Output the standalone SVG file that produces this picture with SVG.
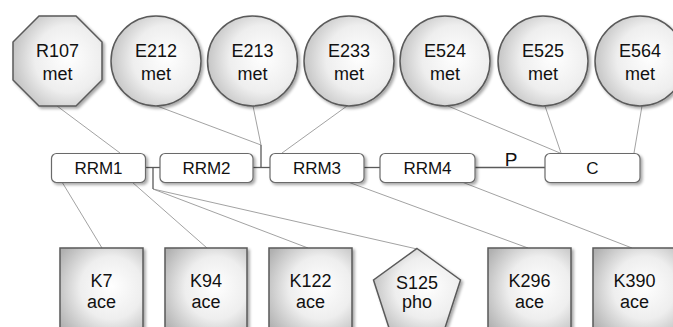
<svg xmlns="http://www.w3.org/2000/svg" width="673" height="327" viewBox="0 0 673 327">
  <defs>
    <radialGradient id="shade" cx="0.62" cy="0.5" r="0.75" fx="0.62" fy="0.45">
      <stop offset="0" stop-color="#ffffff"/>
      <stop offset="0.5" stop-color="#eeeeee"/>
      <stop offset="1" stop-color="#b0b0b0"/>
    </radialGradient>
    <filter id="drop" x="-20%" y="-20%" width="150%" height="150%">
      <feGaussianBlur in="SourceAlpha" stdDeviation="1.5"/>
      <feOffset dx="1.5" dy="2" result="b"/>
      <feComponentTransfer><feFuncA type="linear" slope="0.35"/></feComponentTransfer>
      <feMerge><feMergeNode/><feMergeNode in="SourceGraphic"/></feMerge>
    </filter>
  </defs>
  <style>
    .site { fill: url(#shade); stroke: #5a5a5a; stroke-width: 1.5; filter: url(#drop); }
    .dom { fill: #ffffff; stroke: #6a6a6a; stroke-width: 1.2; filter: url(#drop); }
    .lbl { font-family: "Liberation Sans", Arial, sans-serif; font-size: 18px; fill: #111; text-anchor: middle; }
    .dl { font-family: "Liberation Sans", Arial, sans-serif; font-size: 17px; fill: #111; text-anchor: middle; }
    .pl { font-family: "Liberation Sans", Arial, sans-serif; font-size: 19px; fill: #111; text-anchor: middle; }
    .edge { stroke: #8a8a8a; stroke-width: 0.8; fill: none; }
    .link { stroke: #5a5a5a; stroke-width: 1.3; fill: none; }
  </style>

  <!-- connectors -->
  <g id="connectors">
    <line class="edge" x1="57" y1="106" x2="120" y2="153"/>
    <line class="edge" x1="157" y1="106" x2="261" y2="145"/>
    <line class="edge" x1="253" y1="106" x2="261" y2="145"/>
    <line class="edge" x1="347" y1="106" x2="282" y2="153"/>
    <line class="edge" x1="448" y1="106" x2="560" y2="153"/>
    <line class="edge" x1="545" y1="106" x2="561" y2="153"/>
    <line class="edge" x1="642" y1="106" x2="634" y2="153"/>
    <line class="edge" x1="62" y1="182" x2="102" y2="248"/>
    <line class="edge" x1="132" y1="182" x2="207" y2="248"/>
    <line class="edge" x1="153" y1="189" x2="308" y2="248"/>
    <line class="edge" x1="153" y1="189" x2="417" y2="249"/>
    <line class="edge" x1="348" y1="182" x2="528" y2="248"/>
    <line class="edge" x1="462" y1="182" x2="632" y2="248"/>
    <line class="link" x1="146" y1="167.5" x2="160" y2="167.5"/>
    <line class="link" x1="153" y1="167.5" x2="153" y2="189"/>
    <line class="link" x1="253" y1="167.5" x2="270" y2="167.5"/>
    <line class="link" x1="261" y1="145" x2="261" y2="167.5"/>
    <line class="link" x1="364" y1="167.5" x2="380" y2="167.5"/>
    <line class="link" x1="475" y1="167.5" x2="545" y2="167.5"/>
    <text class="pl" x="511" y="165.5">P</text>
  </g>

  <!-- domains -->
  <g id="RRM1"><rect class="dom" x="51.5" y="153.5" width="94" height="29" rx="5"/><text class="dl" x="98.5" y="174">RRM1</text></g>
  <g id="RRM2"><rect class="dom" x="160" y="153.5" width="93" height="29" rx="5"/><text class="dl" x="206.5" y="174">RRM2</text></g>
  <g id="RRM3"><rect class="dom" x="270" y="153.5" width="94" height="29" rx="5"/><text class="dl" x="317" y="174">RRM3</text></g>
  <g id="RRM4"><rect class="dom" x="380" y="153.5" width="95" height="29" rx="5"/><text class="dl" x="427.5" y="174">RRM4</text></g>
  <g id="C"><rect class="dom" x="545" y="153.5" width="95" height="29" rx="5"/><text class="dl" x="592.5" y="174">C</text></g>

  <!-- methylation sites -->
  <g id="R107">
    <polygon class="site" points="39,16 76,16 102,42 102,80 76,106 39,106 13,80 13,42"/>
    <text class="lbl" x="57.5" y="57">R107</text><text class="lbl" x="57.5" y="80">met</text>
  </g>
  <g id="E212"><circle class="site" cx="156" cy="61" r="45"/><text class="lbl" x="156" y="57">E212</text><text class="lbl" x="156" y="80">met</text></g>
  <g id="E213"><circle class="site" cx="252.5" cy="61" r="45"/><text class="lbl" x="252.5" y="57">E213</text><text class="lbl" x="252.5" y="80">met</text></g>
  <g id="E233"><circle class="site" cx="349" cy="61" r="45"/><text class="lbl" x="349" y="57">E233</text><text class="lbl" x="349" y="80">met</text></g>
  <g id="E524"><circle class="site" cx="445" cy="61" r="45"/><text class="lbl" x="445" y="57">E524</text><text class="lbl" x="445" y="80">met</text></g>
  <g id="E525"><circle class="site" cx="543" cy="61" r="45"/><text class="lbl" x="543" y="57">E525</text><text class="lbl" x="543" y="80">met</text></g>
  <g id="E564"><circle class="site" cx="640" cy="61" r="45"/><text class="lbl" x="640" y="57">E564</text><text class="lbl" x="640" y="80">met</text></g>

  <!-- acetylation / phosphorylation sites -->
  <g id="K7"><rect class="site" x="60" y="248" width="83" height="84"/><text class="lbl" x="101.5" y="287">K7</text><text class="lbl" x="101.5" y="308">ace</text></g>
  <g id="K94"><rect class="site" x="165" y="248" width="82" height="84"/><text class="lbl" x="206" y="287">K94</text><text class="lbl" x="206" y="308">ace</text></g>
  <g id="K122"><rect class="site" x="269" y="248" width="83" height="84"/><text class="lbl" x="310.5" y="287">K122</text><text class="lbl" x="310.5" y="308">ace</text></g>
  <g id="S125">
    <polygon class="site" points="417,248.5 460.5,280 444,331 390,331 373.5,280"/>
    <text class="lbl" x="417" y="289">S125</text><text class="lbl" x="417" y="308">pho</text>
  </g>
  <g id="K296"><rect class="site" x="488" y="248" width="83" height="84"/><text class="lbl" x="529.5" y="287">K296</text><text class="lbl" x="529.5" y="308">ace</text></g>
  <g id="K390"><rect class="site" x="593" y="248" width="83" height="84"/><text class="lbl" x="634.5" y="287">K390</text><text class="lbl" x="634.5" y="308">ace</text></g>
</svg>
